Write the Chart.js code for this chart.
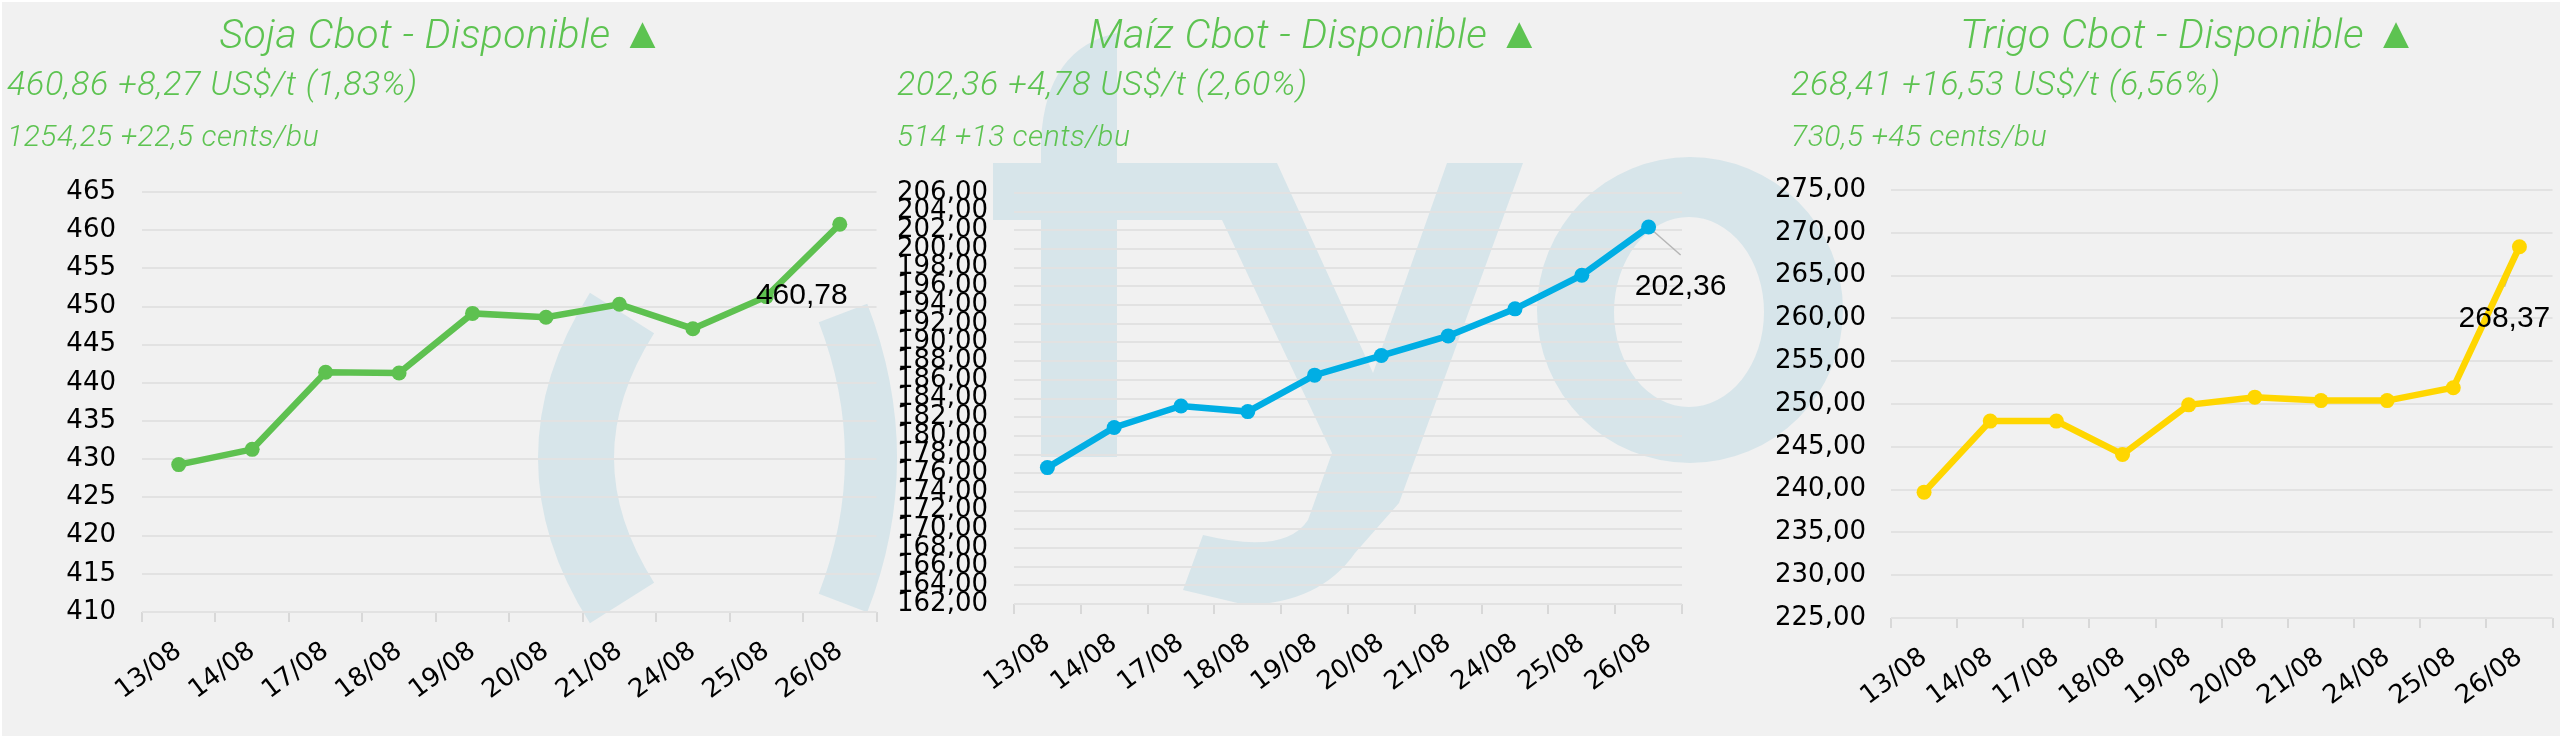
<!DOCTYPE html>
<html>
<head>
<meta charset="utf-8">
<title>Cbot - Disponible</title>
<script src="https://cdn.jsdelivr.net/npm/chart.js@4.4.1/dist/chart.umd.min.js"></script>
<style>
  html, body { margin: 0; padding: 0; }
  body {
    width: 2560px; height: 736px; position: relative; overflow: hidden;
    background: #f1f1f1; font-family: Roboto, sans-serif;
    box-shadow: inset 2px 2px 0 #ffffff;
  }
  #watermark { position: absolute; left: 0; top: 0; }
  .box { position: absolute; top: 170px; height: 566px; }
  .head { position: absolute; color: #5dc351; font-style: italic; font-weight: 300; white-space: nowrap; line-height: 1; }
  .title { font-size: 41px; transform: translateX(-50%); top: 11px; letter-spacing: 0.4px; }
  .title .tri { font-style: normal; font-size: 44px; }
  .price { font-size: 34px; top: 66px; letter-spacing: 0.7px; }
  .cents { font-size: 30px; top: 121px; letter-spacing: 0.5px; }
</style>
</head>
<body>
<canvas id="watermark" width="2560" height="736"></canvas>
<script>
// categories
const dates = ['13/08', '14/08', '17/08', '18/08', '19/08', '20/08', '21/08', '24/08', '25/08', '26/08'];

// series values (US$/t)
const sojaValues  = [429.3, 431.3, 441.4, 441.3, 449.1, 448.6, 450.3, 447.1, 451.3, 460.78];
const maizValues  = [176.6, 180.9, 183.2, 182.6, 186.5, 188.6, 190.7, 193.6, 197.2, 202.36];
const trigoValues = [239.7, 248.0, 248.0, 244.1, 249.9, 250.8, 250.4, 250.4, 251.9, 268.37];

// y axis ranges: [min, max, step]
const sojaRange  = [410, 465, 5];
const maizRange  = [162, 206, 2];
const trigoRange = [225, 275, 5];

// header texts
const titles     = ['Soja Cbot - Disponible ▲', 'Maíz Cbot - Disponible ▲', 'Trigo Cbot - Disponible ▲'];
const priceLines = ['460,86 +8,27 US$/t (1,83%)', '202,36 +4,78 US$/t (2,60%)', '268,41 +16,53 US$/t (6,56%)'];
const centsLines = ['1254,25 +22,5 cents/bu', '514 +13 cents/bu', '730,5 +45 cents/bu'];
const lastLabels = ['460,78', '202,36', '268,37'];

// layout of the three panels
const panels = [
  { values: sojaValues,  range: sojaRange,  decimals: 0, color: '#5ec150',
    left: 0,    width: 884, titleX: 442,  textX: 7,
    axisW: 142, tickPad: 26, padTop: 22, padRight: 5, xAxisH: 124, labelOff: [-38, 72] },
  { values: maizValues,  range: maizRange,  decimals: 2, color: '#00aee4',
    left: 884,  width: 856, titleX: 1315, textX: 897,
    axisW: 130, tickPad: 26, padTop: 23, padRight: 58, xAxisH: 132, labelOff: [32, 60] },
  { values: trigoValues, range: trigoRange, decimals: 2, color: '#ffd600',
    left: 1690, width: 870, titleX: 2189, textX: 1791,
    axisW: 201, tickPad: 25, padTop: 20, padRight: 4, xAxisH: 118, labelOff: [-15, 72] }
];

/**
 * Draws the light "fyo" watermark that sits behind the charts.
 */
function drawWatermark() {
  const ctx = document.getElementById('watermark').getContext('2d');
  ctx.fillStyle = '#d7e5ea';
  ctx.strokeStyle = '#d7e5ea';

  // two open arcs on the left
  ctx.lineWidth = 76;
  ctx.beginPath();
  ctx.moveTo(622, 313);
  ctx.quadraticCurveTo(530, 458, 622, 603);
  ctx.stroke();
  ctx.lineWidth = 52;
  ctx.beginPath();
  ctx.moveTo(843, 313);
  ctx.quadraticCurveTo(899, 458, 843, 603);
  ctx.stroke();

  // f stem
  ctx.beginPath();
  ctx.moveTo(1041, 457);
  ctx.lineTo(1041, 140);
  ctx.quadraticCurveTo(1046, 48, 1117, 33);
  ctx.lineTo(1117, 457);
  ctx.closePath();
  ctx.fill();

  // crossbar + y
  ctx.beginPath();
  ctx.moveTo(993, 163);
  ctx.lineTo(1277, 163);
  ctx.lineTo(1373, 373);
  ctx.lineTo(1447, 163);
  ctx.lineTo(1523, 163);
  ctx.lineTo(1399, 503);
  ctx.lineTo(1355, 553);
  ctx.quadraticCurveTo(1320, 603, 1246, 605);
  ctx.lineTo(1183, 590);
  ctx.lineTo(1203, 535);
  ctx.quadraticCurveTo(1285, 555, 1308, 520);
  ctx.lineTo(1332, 453);
  ctx.lineTo(1222, 220);
  ctx.lineTo(993, 220);
  ctx.closePath();
  ctx.fill();

  // o
  ctx.beginPath();
  ctx.ellipse(1690, 310, 153, 153, 0, 0, Math.PI * 2);
  ctx.ellipse(1689, 312, 75, 95, 0, 0, Math.PI * 2);
  ctx.fill('evenodd');
}

/**
 * Writes the title and the two price lines above each chart.
 */
function addHeaders() {
  panels.forEach((p, i) => {
    [['title', titles[i], p.titleX], ['price', priceLines[i], p.textX], ['cents', centsLines[i], p.textX]]
      .forEach(([cls, text, x]) => {
        const d = document.createElement('div');
        d.className = 'head ' + cls;
        d.style.left = x + 'px';
        if (cls === 'title') {
          d.innerHTML = text.replace('▲', '<span class="tri">▲</span>');
        } else {
          d.textContent = text;
        }
        document.body.appendChild(d);
      });
  });
}

// label of the last point with its thin leader line
const lastPointLabel = {
  id: 'lastPointLabel',
  beforeDatasetsDraw(chart, args, opts) {
    const pts = chart.getDatasetMeta(0).data;
    const pt = pts[pts.length - 1];
    const ctx = chart.ctx;
    ctx.save();
    ctx.strokeStyle = '#b5b5b5';
    ctx.lineWidth = 1.5;
    ctx.beginPath();
    ctx.moveTo(pt.x, pt.y);
    ctx.lineTo(pt.x + opts.dx, pt.y + opts.dy - 32);
    ctx.stroke();
    ctx.restore();
  },
  afterDatasetsDraw(chart, args, opts) {
    const pts = chart.getDatasetMeta(0).data;
    const pt = pts[pts.length - 1];
    const ctx = chart.ctx;
    ctx.save();
    ctx.font = '30px "Liberation Sans", Arial, sans-serif';
    ctx.fillStyle = '#000000';
    ctx.textAlign = 'center';
    ctx.textBaseline = 'middle';
    ctx.fillText(opts.text, pt.x + opts.dx, pt.y + opts.dy);
    ctx.restore();
  }
};

function createLineChart(p, i) {
  const box = document.createElement('div');
  box.className = 'box';
  box.style.left = p.left + 'px';
  box.style.width = p.width + 'px';
  const canvas = document.createElement('canvas');
  canvas.width = p.width;
  canvas.height = 566;
  box.appendChild(canvas);
  document.body.appendChild(box);

  const [min, max, step] = p.range;
  new Chart(canvas.getContext('2d'), {
    type: 'line',
    data: {
      labels: dates,
      datasets: [{
        data: p.values,
        borderColor: p.color,
        backgroundColor: p.color,
        borderWidth: 6.5,
        pointRadius: 7.5,
        pointBorderWidth: 0,
        pointBackgroundColor: p.color,
        tension: 0
      }]
    },
    options: {
      responsive: false,
      animation: false,
      devicePixelRatio: 1,
      layout: { padding: { top: p.padTop, right: p.padRight, left: 0, bottom: 0 } },
      plugins: {
        legend: { display: false },
        tooltip: { enabled: false },
        lastPointLabel: { text: lastLabels[i], dx: p.labelOff[0], dy: p.labelOff[1] }
      },
      scales: {
        x: {
          offset: true,
          grid: { display: true, offset: true, drawOnChartArea: false, drawTicks: true, tickLength: 10, color: '#d8d8d8', lineWidth: 2 },
          border: { display: false },
          ticks: {
            autoSkip: false, minRotation: 37, maxRotation: 37, padding: 14,
            color: '#000000', font: { family: 'DejaVu Sans', size: 26 }
          },
          afterFit: (scale) => { scale.height = p.xAxisH; }
        },
        y: {
          min: min,
          max: max,
          grid: { color: '#e2e2e2', lineWidth: 2, drawTicks: false },
          border: { display: false },
          ticks: {
            stepSize: step, autoSkip: false, padding: p.tickPad,
            color: '#000000', font: { family: 'DejaVu Sans', size: 26 },
            callback: (v) => p.decimals ? v.toFixed(p.decimals).replace('.', ',') : v
          },
          afterFit: (scale) => {
            scale.width = p.axisW;
            scale.paddingTop = 0;
            scale.paddingBottom = 0;
          }
        }
      }
    },
    plugins: [lastPointLabel]
  });
}

drawWatermark();
addHeaders();
panels.forEach(createLineChart);
</script>
</body>
</html>
